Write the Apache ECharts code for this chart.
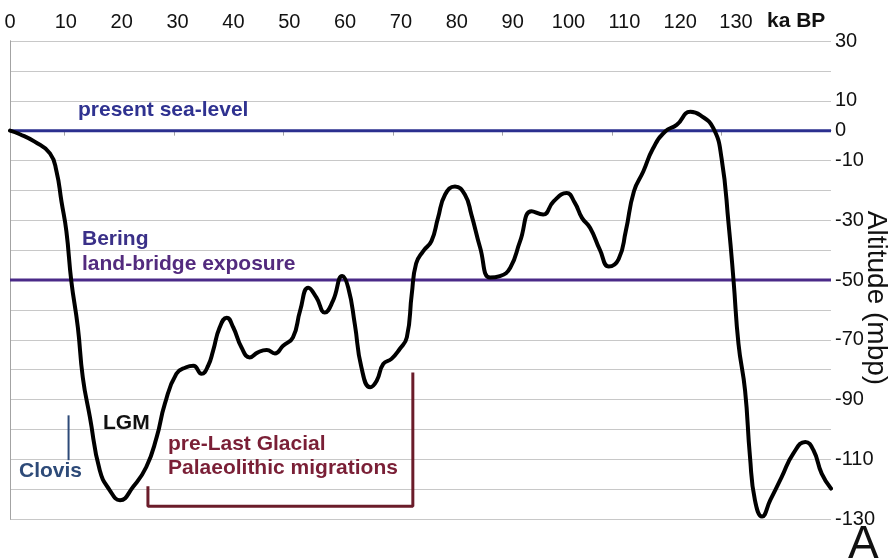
<!DOCTYPE html>
<html>
<head>
<meta charset="utf-8">
<script src="https://cdn.jsdelivr.net/npm/echarts@6/dist/echarts.min.js"></script>
<style>
    html, body { margin: 0; padding: 0; background: #ffffff; }
    #chart { width: 891px; height: 560px; }
</style>
</head>
<body>
<div id="chart"></div>
<script>
const FONT = '"Liberation Sans", Arial, sans-serif';

// sea-level curve, ka BP vs metres below present
const ageKa = [0, 1.8, 4.5, 7.3, 8.5, 9.4, 10.3, 11.2, 12.4, 13.3, 14.6, 16.4, 18.2, 20.1, 22.5, 24.9,
    26.8, 28.3, 30.4, 32.2, 33.5, 35.0, 36.2, 37.1, 38.3, 39.6, 40.8, 42.3, 43.8, 45.3, 46.9, 48.4,
    49.9, 51.7, 53.0, 54.5, 56.0, 57.5, 59.0, 60.7, 61.8, 63.0, 64.2, 65.8, 67.0, 68.2, 69.7, 71.2,
    72.5, 73.4, 74.2, 75.5, 77.0, 78.2, 79.5, 81.3, 83.1, 84.3, 85.9, 87.7, 89.5, 91.4, 93.2, 95.3,
    97.4, 99.3, 101.7, 103.2, 104.5, 106.0, 107.8, 109.4, 111.2, 112.5, 114.0, 115.7, 117.5, 119.7,
    121.8, 124.3, 126.1, 128.5, 130.0, 131.3, 132.2, 133.1, 134.3, 135.2, 136.1, 137.4, 138.9, 141.0,
    143.1, 145.3, 146.8, 148.3, 150.0];
const altitudeM = [0, -1.2, -3.7, -7.6, -13.7, -23.7, -33.7, -50.3, -65.9, -82.6, -95.9, -113.7, -120.3, -123.7, -119.2, -112.6,
    -102.6, -91.4, -81.4, -79.2, -78.7, -81.4, -78.7, -73.7, -65.9, -62.6, -65.9, -72.6, -75.9, -74.2, -73.4, -74.6,
    -72.0, -69.2, -60.3, -52.6, -55.9, -60.9, -57.0, -48.7, -52.6, -64.8, -79.2, -85.9, -83.7, -78.1, -76.4, -73.1,
    -69.2, -54.8, -44.5, -40.3, -37.0, -29.2, -21.4, -18.7, -21.4, -28.1, -39.2, -49.2, -48.7, -45.9, -37.0, -27.0,
    -28.1, -23.7, -20.9, -24.2, -29.2, -32.6, -40.0, -45.5, -43.0, -33.7, -20.3, -13.7, -5.9, -0.3,
    1.9, 6.3, 5.2, 0.8, -9.2, -31.4, -50.3, -71.4, -87.0, -109.2, -123.7, -129.2, -123.7, -115.9,
    -108.1, -104.2, -107.0, -114.8, -119.8];

// reference levels and annotation marks (data coordinates)
const presentSeaLevel = 0;
const beringLevel = -50;
const clovisKa = [10.7, 10.7];
const clovisM = [-95.3, -110.3];
const bracketKa = [25.2, 25.2, 73.6, 73.6];
const bracketM = [-119, -125.7, -125.7, -81];

// axis ticks and labels
const topTickValues = [10, 30, 50, 70, 90, 110, 130];
const yLabelValues = [30, 10, 0, -10, -30, -50, -70, -90, -110, -130];

function zip(xs, ys) {
    return xs.map((x, i) => [x, ys[i]]);
}

function levelLine(name, level, color) {
    return {
        name,
        type: "line",
        xAxisIndex: 0,
        yAxisIndex: 0,
        data: [[0, level], [150, level]],
        symbol: "none",
        lineStyle: { color, width: 3 },
        z: 3,
    };
}

function label(text, left, top, fill, size = 21, weight = "bold") {
    return {
        type: "text",
        left,
        top,
        style: { text, fill, font: `${weight} ${size}px ${FONT}` },
        z: 10,
    };
}

const chart = echarts.init(document.getElementById("chart"));

chart.setOption({
    backgroundColor: "#ffffff",
    animation: false,
    grid: { left: 10, right: 60, top: 41, bottom: 41 },
    xAxis: [
        {
            type: "value",
            position: "top",
            min: 0,
            max: 150,
            interval: 10,
            axisLine: { show: true, lineStyle: { color: "#a3a3a3", width: 1 } },
            axisTick: {
                show: true,
                inside: true,
                length: 5,
                customValues: topTickValues,
                lineStyle: { color: "#a3a3a3" },
            },
            axisLabel: { show: false },
            splitLine: { show: false },
        },
        {
            // label strip of the original figure
            type: "value",
            position: "top",
            min: 0,
            max: 147,
            interval: 10,
            axisLine: { show: false },
            axisTick: { show: false },
            splitLine: { show: false },
            axisLabel: {
                margin: 9,
                color: "#111111",
                fontSize: 20,
                fontFamily: FONT,
                showMaxLabel: false,
                formatter: (v) => (v <= 130 ? String(v) : ""),
            },
        },
    ],
    yAxis: [
        {
            type: "value",
            position: "right",
            min: -130,
            max: 30,
            interval: 10,
            axisLine: { show: true, lineStyle: { color: "#a3a3a3", width: 1 } },
            axisTick: { show: false },
            axisLabel: {
                margin: 4,
                color: "#111111",
                fontSize: 20,
                fontFamily: FONT,
                formatter: (v) => (yLabelValues.includes(v) ? String(v) : ""),
            },
            splitLine: { show: true, lineStyle: { color: "#c8c8c8", width: 1.2 } },
        },
        {
            type: "value",
            position: "left",
            min: -130,
            max: 30,
            interval: 10,
            axisLine: { show: true, lineStyle: { color: "#a3a3a3", width: 1 } },
            axisTick: { show: false },
            axisLabel: { show: false },
            splitLine: { show: false },
        },
    ],
    graphic: [
        label("present sea-level", 78, 100, "#2f3290"),
        label("Bering", 82, 229, "#3a3088"),
        label("land-bridge exposure", 82, 254, "#532b7e"),
        label("LGM", 103, 413, "#111111"),
        label("Clovis", 19, 461, "#2d4a78"),
        label("pre-Last Glacial", 168, 434, "#7a1f36"),
        label("Palaeolithic migrations", 168, 458, "#7a1f36"),
        label("ka BP", 767, 11, "#111111"),
        label("A", 848, 522, "#111111", 46, "normal"),
        {
            type: "text",
            x: 876,
            y: 298,
            rotation: -Math.PI / 2,
            style: {
                text: "Altitude (mbp)",
                fill: "#111111",
                font: `normal 28px ${FONT}`,
                align: "center",
                verticalAlign: "middle",
            },
            z: 10,
        },
    ],
    series: [
        levelLine("present sea-level", presentSeaLevel, "#2b2f8f"),
        levelLine("Bering land-bridge", beringLevel, "#4a2a88"),
        {
            name: "Clovis",
            type: "line",
            data: zip(clovisKa, clovisM),
            symbol: "none",
            lineStyle: { color: "#2d4a78", width: 2 },
            z: 3,
        },
        {
            name: "pre-Last Glacial migrations",
            type: "line",
            data: zip(bracketKa, bracketM),
            symbol: "none",
            lineStyle: { color: "#6b1c2a", width: 3 },
            z: 3,
        },
        {
            name: "sea level",
            type: "line",
            data: zip(ageKa, altitudeM),
            symbol: "none",
            smooth: 0.5,
            lineStyle: { color: "#000000", width: 4, join: "round", cap: "round" },
            z: 5,
        },
    ],
});
</script>
</body>
</html>
